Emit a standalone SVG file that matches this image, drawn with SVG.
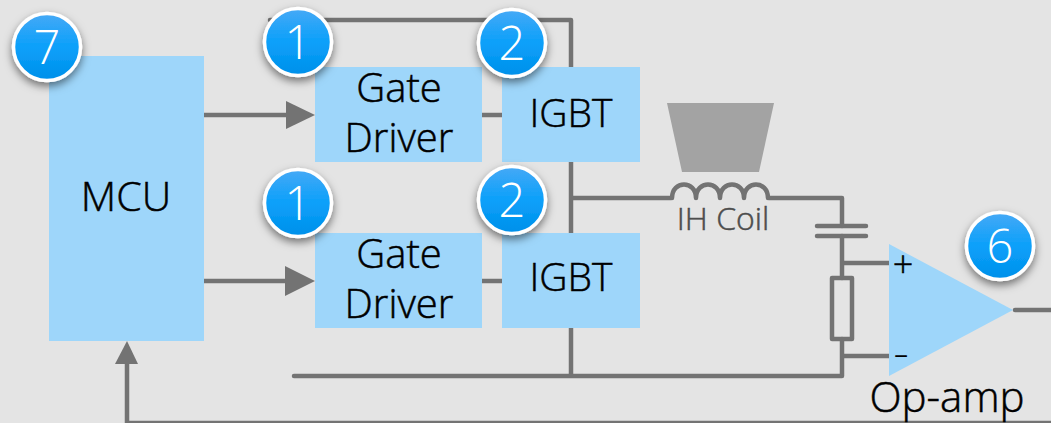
<svg xmlns="http://www.w3.org/2000/svg" width="1051" height="423" viewBox="0 0 1051 423">
<defs>
<linearGradient id="bg" x1="0" y1="0" x2="0" y2="1"><stop offset="0" stop-color="#46a9f6"/><stop offset="0.5" stop-color="#0ba0fa"/><stop offset="1" stop-color="#0090ea"/></linearGradient>
<filter id="sh" x="-30%" y="-30%" width="160%" height="170%"><feDropShadow dx="0" dy="4" stdDeviation="4" flood-color="#000" flood-opacity="0.5"/></filter>
</defs>
<style>
.box{fill:#9ed6fa}
.t{font-family:"Open Sans","Noto Sans","Liberation Sans",sans-serif;fill:#000;stroke:#000;stroke-width:0.5;text-anchor:middle;font-weight:300}
.w{stroke:#737373;stroke-width:4.5;fill:none;stroke-linecap:round;stroke-linejoin:round}
.ah{fill:#737373}
.bc{fill:url(#bg);stroke:#fff;stroke-width:3.5;filter:url(#sh)}
.bt{font-family:"Open Sans","Noto Sans","Liberation Sans",sans-serif;fill:#fff;text-anchor:middle;font-size:47px;font-weight:300}
</style>
<rect width="1051" height="423" fill="#e4e4e4"/>
<g id="connectors">
<path class="w" d="M270 20H571V376M294 376H842M571 198H671M769 198H842V226M842 236V278M842 339V376M842 263H889M842 356H889M1015 310H1051M482 115H502M482 281H502"/>
<path class="w" d="M672 198c0-18 24-18 24 0c0-18 24-18 24 0c0-18 24-18 24 0c0-18 24-18 24 0"/>
<path class="w" d="M817 226H866M817 236H866"/>
<rect class="w" x="832" y="278" width="20" height="61"/>
<path d="M204 115H290M204 281H290" stroke="#737373" stroke-width="4.5" fill="none"/>
<path d="M127 423V360" stroke="#737373" stroke-width="4.5" fill="none"/>
<path d="M127 422H1051" stroke="#737373" stroke-width="2.500" fill="none"/>
<polygon class="ah" points="286,101 315,115 286,129"/>
<polygon class="ah" points="285,266 315,281 285,296"/>
<polygon class="ah" points="127,341 138,364 115,364"/>
</g>
<g id="coil-core"><polygon points="667,103 774,103 759,172 682,172" fill="#a3a3a3"/></g>
<g id="mcu"><rect class="box" x="49" y="56" width="155" height="285"/><text class="t" x="126" y="211" font-size="41">MCU</text></g>
<g id="driver1"><rect class="box" x="315" y="67" width="167" height="95"/><text class="t" x="399" y="102" font-size="40">Gate</text><text class="t" x="399" y="152" font-size="40">Driver</text></g>
<g id="igbt1"><rect class="box" x="502" y="67" width="138" height="95"/><text class="t" x="571" y="127" font-size="39">IGBT</text></g>
<g id="driver2"><rect class="box" x="315" y="233" width="167" height="95"/><text class="t" x="399" y="268" font-size="40">Gate</text><text class="t" x="399" y="318" font-size="40">Driver</text></g>
<g id="igbt2"><rect class="box" x="502" y="233" width="138" height="95"/><text class="t" x="571" y="291" font-size="39">IGBT</text></g>
<g id="coil-label"><text class="t" x="723" y="230" font-size="32" style="fill:#4d4d4d;stroke:#4d4d4d">IH Coil</text></g>
<g id="opamp"><polygon class="box" points="889,244 1013,310 889,376"/><text class="t" x="903" y="277" font-size="36">+</text><text x="901" y="364" font-size="24" text-anchor="middle" font-family="'Liberation Sans',sans-serif">−</text><text class="t" x="947" y="412" font-size="42">Op-amp</text></g>
<g id="badge7"><circle class="bc" cx="47" cy="47" r="33.500"/><text class="bt" x="47" y="64">7</text></g>
<g id="badge1a"><circle class="bc" cx="298" cy="42" r="33.500"/><text class="bt" x="298" y="59">1</text></g>
<g id="badge1b"><circle class="bc" cx="298" cy="203" r="33.500"/><text class="bt" x="298" y="220">1</text></g>
<g id="badge2a"><circle class="bc" cx="512" cy="43" r="33.500"/><text class="bt" x="512" y="60">2</text></g>
<g id="badge2b"><circle class="bc" cx="512" cy="200" r="33.500"/><text class="bt" x="512" y="217">2</text></g>
<g id="badge6"><circle class="bc" cx="1000" cy="246" r="33.500"/><text class="bt" x="1000" y="263">6</text></g>
</svg>
